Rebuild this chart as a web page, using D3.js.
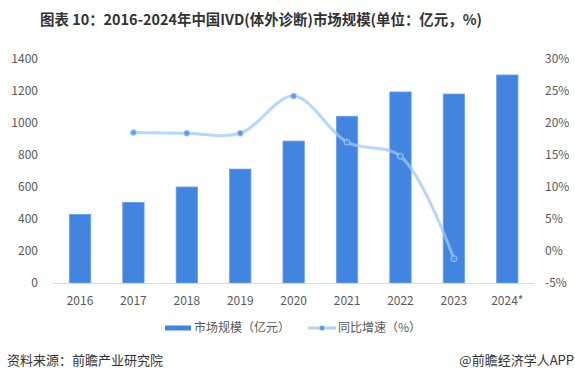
<!DOCTYPE html>
<html><head><meta charset="utf-8">
<script src="https://cdn.jsdelivr.net/npm/d3@7/dist/d3.min.js"></script>
<style>
body{margin:0;background:#fff;}
svg{display:block;font-family:"Noto Sans CJK SC","Noto Sans",sans-serif;}
</style></head>
<body><svg id="c" width="575" height="382"></svg>
<script>
const categories = ["2016","2017","2018","2019","2020","2021","2022","2023","2024*"];
const marketSize = [429, 504, 600, 712, 887, 1042, 1194, 1181, 1300];
const growth = [null, 18.5, 18.4, 18.4, 24.2, 17.0, 14.8, -1.2, null];
const leftTicks = [0,200,400,600,800,1000,1200,1400];
const rightTicks = [-5,0,5,10,15,20,25,30];
const titleText = "图表 10：2016-2024年中国IVD(体外诊断)市场规模(单位：亿元，%)";
const legendLabels = ["市场规模（亿元）","同比增速（%）"];
const sourceText = "资料来源：前瞻产业研究院";
const brandText = "@前瞻经济学人APP";

(function(){
const svg = d3.select("#c");
const mLeft=53.3, mRight=534, mTop=59, mBottom=283;
const txtColor="#595959";

const x = d3.scaleBand().domain(categories).range([mLeft,mRight]).paddingInner(0.6).paddingOuter(0.3);
const yL = d3.scaleLinear().domain([0,1400]).range([mBottom,mTop]);
const yR = d3.scaleLinear().domain([-5,30]).range([mBottom,mTop]);

svg.append("text").attr("x",40).attr("y",25).attr("font-size",14.5).attr("font-weight","bold")
  .attr("fill","#333").attr("textLength",442).attr("lengthAdjust","spacingAndGlyphs").text(titleText);

svg.append("g").selectAll("text").data(leftTicks).join("text")
  .attr("x",38).attr("y",d=>yL(d)).attr("dy","0.35em").attr("text-anchor","end")
  .attr("font-size",12).attr("fill",txtColor).text(d=>d);
svg.append("g").selectAll("text").data(rightTicks).join("text")
  .attr("x",545).attr("y",d=>yR(d)).attr("dy","0.35em").attr("text-anchor","start")
  .attr("font-size",12).attr("fill",txtColor).text(d=>d+"%");

svg.append("g").selectAll("rect").data(marketSize).join("rect")
  .attr("x",(d,i)=>x(categories[i])).attr("width",x.bandwidth())
  .attr("y",d=>yL(d)).attr("height",d=>yL(0)-yL(d))
  .attr("fill","#4285e0").attr("stroke","#6aa0ea").attr("stroke-width",0.8);

svg.append("line").attr("x1",mLeft).attr("x2",mRight).attr("y1",mBottom+0.5).attr("y2",mBottom+0.5)
  .attr("stroke","#d9d9d9").attr("stroke-width",1);

svg.append("g").selectAll("text").data(categories).join("text")
  .attr("x",d=>x(d)+x.bandwidth()/2).attr("y",301).attr("dy","0.35em").attr("text-anchor","middle")
  .attr("font-size",12).attr("fill",txtColor).text(d=>d);

const pts = growth.map((g,i)=>({c:categories[i],g})).filter(d=>d.g!==null);
const line = d3.line().x(d=>x(d.c)+x.bandwidth()/2).y(d=>yR(d.g)).curve(d3.curveCatmullRom.alpha(0.5));
svg.append("path").datum(pts).attr("d",line).attr("fill","none")
  .attr("stroke","rgba(160,200,245,0.75)").attr("stroke-width",3);
svg.append("g").selectAll("circle").data(pts).join("circle")
  .attr("cx",d=>x(d.c)+x.bandwidth()/2).attr("cy",d=>yR(d.g)).attr("r",3)
  .attr("fill","rgba(80,145,230,0.85)").attr("stroke","rgba(175,210,250,0.8)").attr("stroke-width",1);

const lg = svg.append("g");
lg.append("rect").attr("x",165).attr("y",325.5).attr("width",26).attr("height",5).attr("fill","#4285e0");
lg.append("text").attr("x",194).attr("y",328).attr("dy","0.35em").attr("font-size",12).attr("fill",txtColor).text(legendLabels[0]);
lg.append("line").attr("x1",308).attr("x2",336).attr("y1",328).attr("y2",328).attr("stroke","rgba(160,200,245,0.8)").attr("stroke-width",3);
lg.append("circle").attr("cx",322).attr("cy",328).attr("r",2.5).attr("fill","rgba(80,145,230,0.9)");
lg.append("text").attr("x",338).attr("y",328).attr("dy","0.35em").attr("font-size",12).attr("fill",txtColor).text(legendLabels[1]);

svg.append("text").attr("x",7).attr("y",360).attr("dy","0.35em").attr("font-size",13).attr("fill","#333").text(sourceText);
svg.append("text").attr("x",574).attr("y",360).attr("dy","0.35em").attr("text-anchor","end").attr("font-size",13).attr("fill","#333").text(brandText);
})();
</script></body></html>
